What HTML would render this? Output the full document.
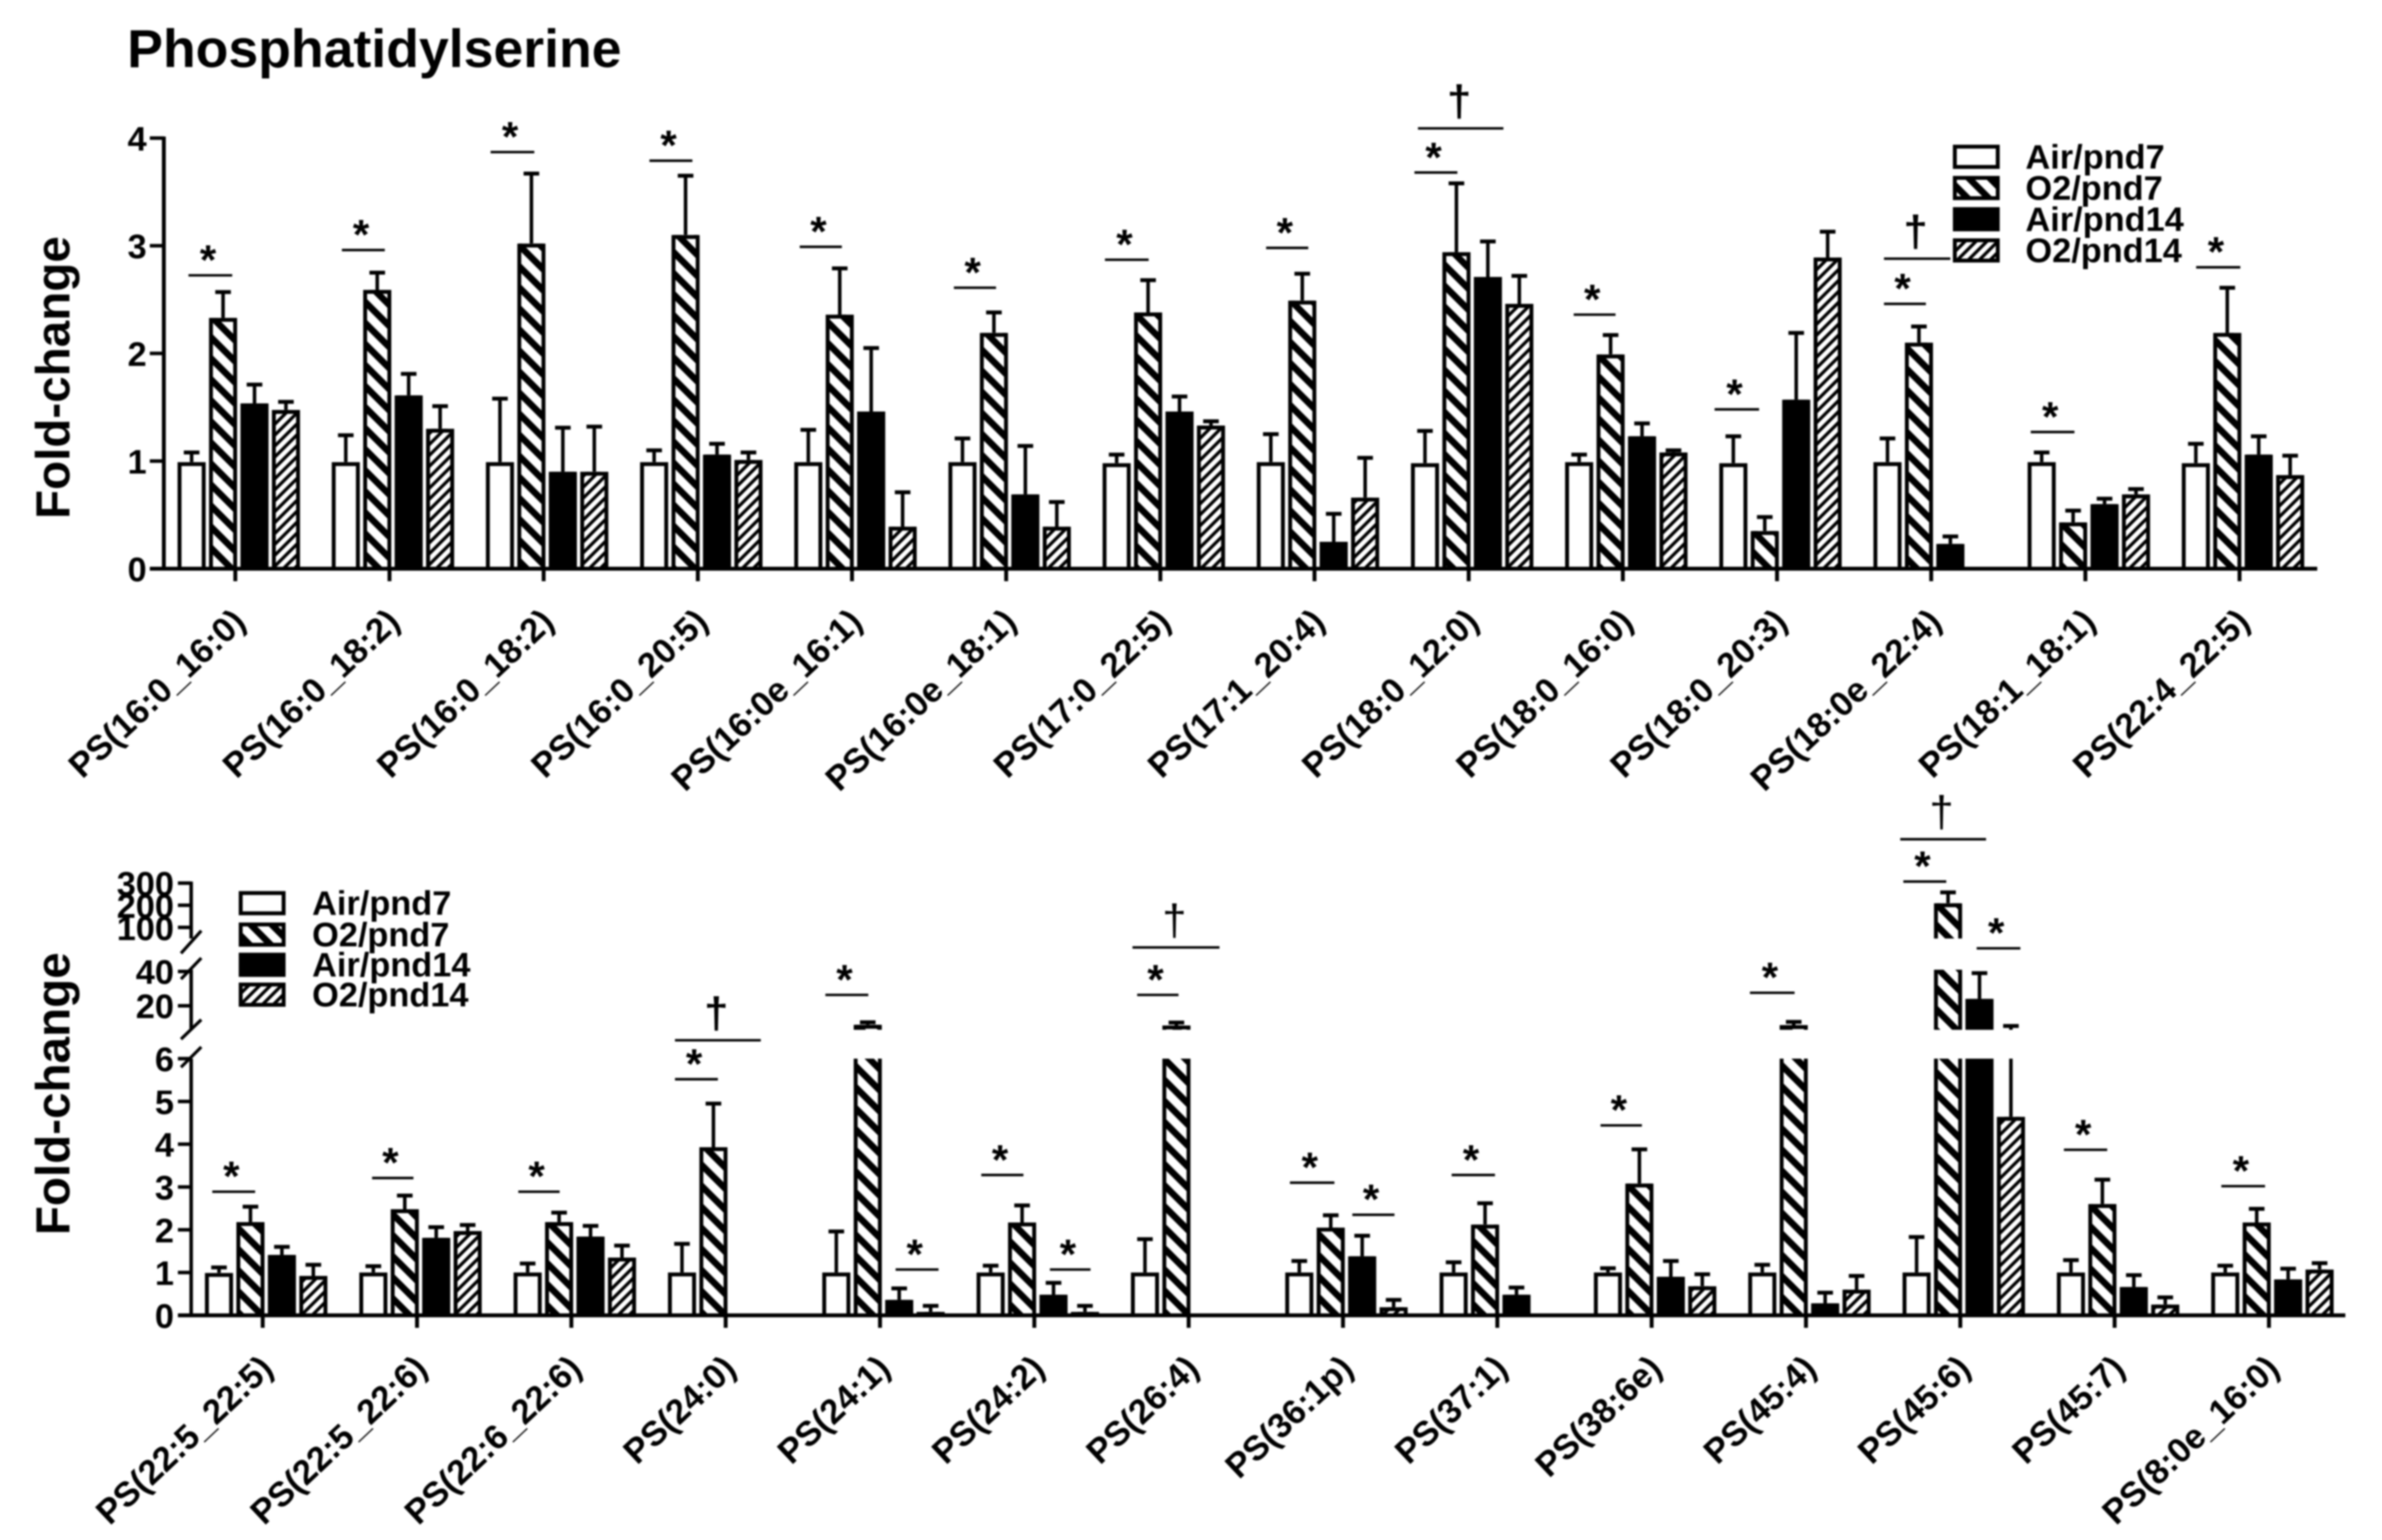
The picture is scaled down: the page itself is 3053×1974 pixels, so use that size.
<!DOCTYPE html>
<html lang="en">
<head>
<meta charset="utf-8">
<title>Phosphatidylserine</title>
<style>
  html, body { margin: 0; padding: 0; background: #fff; }
  #figure { display: block; width: 3053px; height: 1974px; filter: blur(1.1px); }
  text { font-family: "Liberation Sans", sans-serif; fill: #000; }
</style>
</head>
<body>
<svg id="figure" xmlns="http://www.w3.org/2000/svg" width="3053" height="1974" viewBox="0 0 3053 1974">
  <defs>
    <pattern id="hatch-o2-pnd7" patternUnits="userSpaceOnUse" width="27" height="27">
      <rect width="27" height="27" fill="#fff"/>
      <path d="M-7,-7 L34,34 M-7,20 L7,34 M20,-7 L34,7" stroke="#000" stroke-width="8.5" fill="none"/>
    </pattern>
    <pattern id="hatch-o2-pnd14" patternUnits="userSpaceOnUse" width="14" height="14">
      <rect width="14" height="14" fill="#fff"/>
      <path d="M-4,18 L18,-4 M-4,4 L4,-4 M10,18 L18,10" stroke="#000" stroke-width="4.2" fill="none"/>
    </pattern>
  </defs>
  <rect width="3053" height="1974" fill="#fff"/>
  <text x="163" y="86" font-size="68.7" font-weight="700">Phosphatidylserine</text>
  <g id="top-chart"></g>
  <g id="bottom-chart"></g>
</svg>
<script>
// ---------- Legend / series ----------
const seriesNames = ['Air/pnd7', 'O2/pnd7', 'Air/pnd14', 'O2/pnd14'];

// ---------- Top chart data ----------
const topCategories = ['PS(16:0_16:0)', 'PS(16:0_18:2)', 'PS(16:0_18:2)', 'PS(16:0_20:5)', 'PS(16:0e_16:1)', 'PS(16:0e_18:1)', 'PS(17:0_22:5)', 'PS(17:1_20:4)', 'PS(18:0_12:0)', 'PS(18:0_16:0)', 'PS(18:0_20:3)', 'PS(18:0e_22:4)', 'PS(18:1_18:1)', 'PS(22:4_22:5)'];
const topAirPnd7 = [0.99, 0.99, 0.99, 0.99, 0.99, 0.99, 0.98, 0.99, 0.98, 0.99, 0.98, 0.99, 0.99, 0.98];
const topAirPnd7Err = [1.08, 1.24, 1.58, 1.10, 1.29, 1.21, 1.06, 1.25, 1.28, 1.06, 1.23, 1.21, 1.08, 1.16];
const topO2Pnd7 = [2.33, 2.59, 3.02, 3.10, 2.36, 2.19, 2.38, 2.49, 2.94, 1.99, 0.35, 2.10, 0.43, 2.19];
const topO2Pnd7Err = [2.57, 2.75, 3.67, 3.65, 2.79, 2.38, 2.68, 2.74, 3.58, 2.17, 0.48, 2.25, 0.54, 2.61];
const topAirPnd14 = [1.535, 1.61, 0.90, 1.06, 1.46, 0.69, 1.46, 0.25, 2.71, 1.23, 1.57, 0.23, 0.60, 1.06];
const topAirPnd14Err = [1.71, 1.81, 1.31, 1.16, 2.05, 1.14, 1.6, 0.51, 3.04, 1.35, 2.19, 0.30, 0.65, 1.23];
const topO2Pnd14 = [1.475, 1.30, 0.90, 1.01, 0.39, 0.39, 1.33, 0.66, 2.46, 1.08, 2.89, 0, 0.69, 0.87];
const topO2Pnd14Err = [1.55, 1.51, 1.32, 1.08, 0.71, 0.62, 1.37, 1.03, 2.72, 1.10, 3.13, 0, 0.74, 1.05];
const topTicks = [0, 1, 2, 3, 4];

// ---------- Bottom chart data ----------
const bottomCategories = ['PS(22:5_22:5)', 'PS(22:5_22:6)', 'PS(22:6_22:6)', 'PS(24:0)', 'PS(24:1)', 'PS(24:2)', 'PS(26:4)', 'PS(36:1p)', 'PS(37:1)', 'PS(38:6e)', 'PS(45:4)', 'PS(45:6)', 'PS(45:7)', 'PS(8:0e_16:0)'];
const bottomAirPnd7 = [0.99, 1, 1, 1, 1, 1, 1, 1, 1, 1, 1, 1, 1, 1];
const bottomAirPnd7Err = [1.12, 1.15, 1.21, 1.67, 1.96, 1.16, 1.78, 1.27, 1.24, 1.1, 1.18, 1.83, 1.29, 1.16];
const bottomO2Pnd7 = [2.18, 2.48, 2.18, 3.93, 8.9, 2.17, 8.5, 2.05, 2.12, 3.08, 8.7, 209, 2.6, 2.17];
const bottomO2Pnd7Err = [2.54, 2.8, 2.4, 4.95, 10.4, 2.57, 10.2, 2.34, 2.62, 3.88, 10.6, 258, 3.17, 2.49];
const bottomAirPnd14 = [1.41, 1.81, 1.84, 0, 0.36, 0.48, 0, 1.38, 0.48, 0.9, 0.28, 24, 0.66, 0.84];
const bottomAirPnd14Err = [1.6, 2.06, 2.09, 0, 0.63, 0.76, 0, 1.86, 0.65, 1.27, 0.53, 39, 0.94, 1.09];
const bottomO2Pnd14 = [0.92, 1.97, 1.35, 0, 0.08, 0.08, 0, 0.19, 0, 0.68, 0.6, 4.64, 0.25, 1.07];
const bottomO2Pnd14Err = [1.18, 2.11, 1.63, 0, 0.22, 0.22, 0, 0.36, 0, 0.96, 0.92, 8.2, 0.42, 1.22];
const bottomTicksLower = [0, 1, 2, 3, 4, 5, 6];
const bottomTicksMiddle = [20, 40];
const bottomTicksUpper = [100, 200, 300];

// ---------- Axis functions ----------
const NS = 'http://www.w3.org/2000/svg';
const topSegments = [{ d0: 0, d1: 4.5, y0: 729, y1: 729 - 138 * 4.5 }];
const bottomSegments = [
  { d0: 0, d1: 6, y0: 1686, y1: 1357 },
  { d0: 6, d1: 41, y0: 1320, y1: 1243 },
  { d0: 50, d1: 300, y0: 1203, y1: 1132 }
];
function segY(s, v) {
  return s.y0 + (Math.min(v, s.d1) - s.d0) / (s.d1 - s.d0) * (s.y1 - s.y0);
}
function scaleY(segments, v) {
  let s = segments[0];
  for (const c of segments) { if (v > c.d0) s = c; }
  return segY(s, v);
}
function topX(i) { return 301.6 + 197.6 * i; }
function bottomX(i) { return 336.7 + 197.8 * i; }
function barCenter(tick, j) { return tick - 56 + 40.3 * j; }
function topLevelY(level) { return 729 - 138 * level; }
function bottomLevelY(level) { return 1686 - 54.83 * level; }

function mk(tag, parent, attrs, txt) {
  const el = document.createElementNS(NS, tag);
  for (const k in attrs) el.setAttribute(k, attrs[k]);
  if (txt !== undefined) el.textContent = txt;
  parent.appendChild(el);
  return el;
}
function ln(parent, x1, y1, x2, y2, w) {
  return mk('line', parent, { x1: x1, y1: y1, x2: x2, y2: y2, stroke: '#000', 'stroke-width': w });
}

const BAR_W = 36, SW = 5;
const seriesFill = ['#fff', 'url(#hatch-o2-pnd7)', '#000', 'url(#hatch-o2-pnd14)'];

function drawBar(parent, cx, v, e, j, segments) {
  const g = mk('g', parent, {});
  
  
  if (v <= 0) return;
  const half = BAR_W / 2, inner = half - SW / 2;
  // Error bar pieces, one per axis segment, then the cap
  for (const s of segments) {
    const lo = Math.max(v, s.d0), hi = Math.min(e, s.d1);
    if (hi > lo) ln(g, cx, segY(s, hi), cx, segY(s, lo), 4.5);
  }
  if (e > v) ln(g, cx - 10, scaleY(segments, e), cx + 10, scaleY(segments, e), 5);
  // Bar pieces, one per axis segment it crosses
  for (const s of segments) {
    if (v <= s.d0) continue;
    const closed = v <= s.d1;
    const yTop = closed ? segY(s, v) : s.y1;
    const yBot = s.y0;
    mk('rect', g, { x: cx - inner, y: yTop, width: inner * 2, height: Math.max(0, yBot - yTop), fill: seriesFill[j] });
    const t = closed ? Math.min(yTop + SW / 2, yBot) : yTop;
    const d = closed
      ? 'M' + (cx - inner) + ',' + yBot + ' L' + (cx - inner) + ',' + t + ' L' + (cx + inner) + ',' + t + ' L' + (cx + inner) + ',' + yBot
      : 'M' + (cx - inner) + ',' + yBot + ' L' + (cx - inner) + ',' + t + ' M' + (cx + inner) + ',' + t + ' L' + (cx + inner) + ',' + yBot;
    mk('path', g, { d: d, fill: 'none', stroke: '#000', 'stroke-width': SW });
  }
}

function drawLegend(parent, swatchX, textX, baselines) {
  seriesNames.forEach(function (name, j) {
    const row = mk('g', parent, {});
    
    
    const sw = mk('rect', row, { x: swatchX + 2.5, y: baselines[j] - 28, width: 55, height: 26, fill: seriesFill[j], stroke: '#000', 'stroke-width': 5 });
    
    
    const label = mk('text', row, { x: textX, y: baselines[j], 'font-size': 44, 'font-weight': 700 }, name);
    
    
  });
}

function sigStar(parent, tick, levelY, a, b) {
  const g = mk('g', parent, {});
  
  
  ln(g, tick + a, levelY, tick + b, levelY, 3.2);
  mk('text', g, { x: tick + (a + b) / 2 - 3, y: levelY - 1.4, 'font-size': 54, 'font-weight': 700, 'text-anchor': 'middle' }, '*');
}
function sigDagger(parent, tick, levelY, a, b, weight) {
  const g = mk('g', parent, {});
  
  
  ln(g, tick + a, levelY, tick + b, levelY, 3.2);
  mk('text', g, { x: tick + (a + b) / 2 - 2, y: levelY - 16, 'font-size': 56, 'font-weight': weight, 'text-anchor': 'middle' }, '\u2020');
}

function drawCategoryAxis(parent, categories, xFn, y0) {
  categories.forEach(function (name, i) {
    const x = xFn(i);
    const t = ln(parent, x, y0, x, y0 + 16, 5);
    
    
    const lx = x + 15.4, ly = y0 + 71;
    const label = mk('text', parent, { x: lx, y: ly, 'font-size': 44.3, 'font-weight': 700, 'text-anchor': 'end', transform: 'rotate(-43.3 ' + lx + ' ' + ly + ')' }, name);
    
    
  });
}

function drawYTicks(parent, ticks, segments, axisX, tickLeft, labelRight) {
  ticks.forEach(function (v) {
    const y = scaleY(segments, v);
    const t = ln(parent, tickLeft, y, axisX, y, 4.5);
    
    
    const label = mk('text', parent, { x: labelRight, y: y + 16, 'font-size': 44, 'font-weight': 700, 'text-anchor': 'end' }, String(v));
    
    
  });
}

function drawBars(parent, categories, xFn, segments, values, errors) {
  categories.forEach(function (name, i) {
    const grp = mk('g', parent, {});
    
    
    values.forEach(function (vals, j) {
      drawBar(grp, barCenter(xFn(i), j), vals[i], errors[j][i], j, segments);
    });
  });
}

// ---------- Top chart ----------
const topG = document.getElementById('top-chart');
drawBars(topG, topCategories, topX, topSegments,
  [topAirPnd7, topO2Pnd7, topAirPnd14, topO2Pnd14],
  [topAirPnd7Err, topO2Pnd7Err, topAirPnd14Err, topO2Pnd14Err]);
const topYAxis = ln(topG, 210, scaleY(topSegments, 4) - 2, 210, 729, 5);


const topXAxis = ln(topG, 192, 729, 2970, 729, 5);


drawYTicks(topG, topTicks, topSegments, 210, 192, 188);
drawCategoryAxis(topG, topCategories, topX, 729);
const topTitle = mk('text', topG, { x: 89, y: 484, 'font-size': 61, 'font-weight': 700, 'text-anchor': 'middle', transform: 'rotate(-90 89 484)' }, 'Fold-change');



sigStar(topG, topX(0), topLevelY(2.725), -60, -4);
sigStar(topG, topX(1), topLevelY(2.96), -61, -6);
sigStar(topG, topX(2), topLevelY(3.87), -68, -12);
sigStar(topG, topX(3), topLevelY(3.79), -62, -7);
sigStar(topG, topX(4), topLevelY(2.99), -67, -13);
sigStar(topG, topX(5), topLevelY(2.61), -67, -13);
sigStar(topG, topX(6), topLevelY(2.87), -71, -15);
sigStar(topG, topX(7), topLevelY(2.98), -62, -8);
sigStar(topG, topX(8), topLevelY(3.68), -69.5, -14.5);
sigDagger(topG, topX(8), topLevelY(4.09), -65, 44.5, 700);
sigStar(topG, topX(9), topLevelY(2.36), -63, -9.4);
sigStar(topG, topX(10), topLevelY(1.48), -80, -23);
sigStar(topG, topX(11), topLevelY(2.46), -60.5, -6.8);
sigDagger(topG, topX(11), topLevelY(2.88), -60.5, 24.5, 700);
sigStar(topG, topX(12), topLevelY(1.27), -70, -14);
sigStar(topG, topX(13), topLevelY(2.80), -55.6, 1);

const topLegend = mk('g', topG, {});


drawLegend(topLegend, 2503, 2596, [216, 256, 296, 336]);

// ---------- Bottom chart ----------
const botG = document.getElementById('bottom-chart');
drawBars(botG, bottomCategories, bottomX, bottomSegments,
  [bottomAirPnd7, bottomO2Pnd7, bottomAirPnd14, bottomO2Pnd14],
  [bottomAirPnd7Err, bottomO2Pnd7Err, bottomAirPnd14Err, bottomO2Pnd14Err]);
const botAxisLower = ln(botG, 245, 1357, 245, 1686, 4.5);


const botAxisMiddle = ln(botG, 245, 1243, 245, 1320, 4.5);


const botAxisUpper = ln(botG, 245, 1130, 245, 1203, 4.5);


[[1222, 1193], [1255, 1228], [1332, 1307], [1368, 1342]].forEach(function (p) {
  const brk = ln(botG, 232, p[0], 258, p[1], 4);
  
  
});
const botXAxis = ln(botG, 228, 1686, 3006, 1686, 5);


drawYTicks(botG, bottomTicksLower, bottomSegments, 245, 228, 223);
drawYTicks(botG, bottomTicksMiddle, bottomSegments, 245, 228, 223);
drawYTicks(botG, bottomTicksUpper, bottomSegments, 245, 228, 223);
drawCategoryAxis(botG, bottomCategories, bottomX, 1686);
const botTitle = mk('text', botG, { x: 89, y: 1402, 'font-size': 61, 'font-weight': 700, 'text-anchor': 'middle', transform: 'rotate(-90 89 1402)' }, 'Fold-change');



sigStar(botG, bottomX(0), bottomLevelY(2.89), -64.6, -9.7);
sigStar(botG, bottomX(1), bottomLevelY(3.21), -57.6, -4.6);
sigStar(botG, bottomX(2), bottomLevelY(2.89), -68, -15);
sigStar(botG, bottomX(3), bottomLevelY(5.52), -65, -10);
sigDagger(botG, bottomX(3), bottomLevelY(6.43), -65, 45, 700);
sigStar(botG, bottomX(4), bottomLevelY(7.49), -70, -15);
sigStar(botG, bottomX(4), bottomLevelY(1.07), 20, 75);
sigStar(botG, bottomX(5), bottomLevelY(3.28), -68, -14);
sigStar(botG, bottomX(5), bottomLevelY(1.07), 20, 72);
sigStar(botG, bottomX(6), bottomLevelY(7.49), -66, -13);
sigDagger(botG, bottomX(6), bottomLevelY(8.6), -72, 39.5, 400);
sigStar(botG, bottomX(7), bottomLevelY(3.1), -68, -11);
sigStar(botG, bottomX(7), bottomLevelY(2.35), 12, 66);
sigStar(botG, bottomX(8), bottomLevelY(3.28), -58.5, -3);
sigStar(botG, bottomX(9), bottomLevelY(4.44), -65.5, -12.5);
sigStar(botG, bottomX(10), bottomLevelY(7.54), -71.8, -14.6);
sigStar(botG, bottomX(11), bottomLevelY(10.14), -73, -18);
sigDagger(botG, bottomX(11), bottomLevelY(11.13), -77, 33, 400);
sigStar(botG, bottomX(11), bottomLevelY(8.58), 21, 77);
sigStar(botG, bottomX(12), bottomLevelY(3.87), -65, -9.5);
sigStar(botG, bottomX(13), bottomLevelY(3.02), -61, -5);

const botLegend = mk('g', botG, {});


drawLegend(botLegend, 306, 400, [1172.7, 1213, 1251.7, 1290]);
</script>
</body>
</html>
